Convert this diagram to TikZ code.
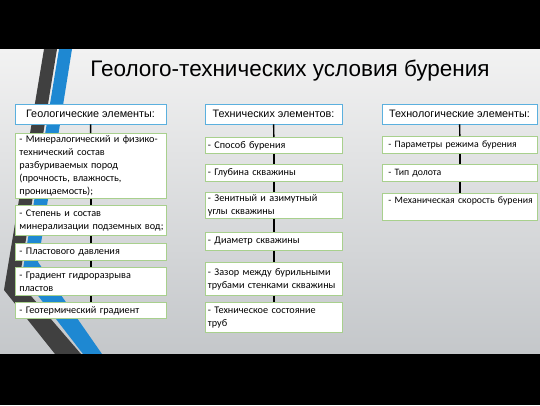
\documentclass[tikz,border=0pt]{standalone}
\usepackage{fontspec}
\setmainfont{Carlito}
\newfontfamily\arialf{Liberation Sans}
\definecolor{hdrblue}{HTML}{5BB0DE}
\definecolor{itgreen}{HTML}{A8D08D}
\definecolor{stripeblue}{HTML}{1E88D2}
\definecolor{stripedark}{HTML}{404040}
\definecolor{bgtop}{HTML}{F2F2F2}
\definecolor{bgbot}{HTML}{C4C7CA}
\begin{document}
\begin{tikzpicture}[x=1pt,y=-1pt,
  hdr/.style={draw=hdrblue, line width=0.9pt, fill=white, minimum height=20pt, inner sep=0pt,
    font=\arialf\fontsize{10.8}{12}\selectfont},
  item/.style={draw=itgreen, line width=0.9pt, fill=white, anchor=north west,
    inner ysep=2pt, align=left, font=\fontsize{10.2}{12.8}\selectfont},
  cola/.style={item, inner xsep=4pt, text width=143pt},
  colb/.style={item, inner xsep=2.5pt, text width=132pt},
  colc/.style={item, inner xsep=6pt, text width=143pt, font=\fontsize{9.8}{12.8}\selectfont},
  link/.style={line width=1.4pt, black}]
\useasboundingbox (0,0) rectangle (540,405);
% background
\shade[top color=bgtop, bottom color=bgbot] (0,49) rectangle (540,354);
% decorative stripes
\fill[stripedark] (44,49) -- (57,49) -- (19,282) -- (81,354) -- (55,354) -- (4,290) -- cycle;
\fill[stripeblue] (59,49) -- (72,49) -- (38,262) -- (102,354) -- (83,354) -- (22,275) -- cycle;
% black bands
\fill[black] (0,0) rectangle (540,49);
\fill[black] (0,354) rectangle (540,405);
% title
\node[font=\arialf\fontsize{22.5}{26}\selectfont, anchor=base] (title) at (290,76)
  {Геолого-технических условия бурения};
% headers
\node[hdr, minimum width=151pt] (h1) at (90.5,114) {Геологические элементы:};
\node[hdr, minimum width=137pt] (h2) at (273.5,114) {Технических элементов:};
\node[hdr, minimum width=155pt] (h3) at (459.5,114) {Технологические элементы:};
% column 1
\node[cola, minimum height=65pt] (g1) at (15,133) {\mbox{- Минералогический и физико-}\\технический состав\\разбуриваемых пород\\(прочность, влажность,\\проницаемость);};
\node[cola, minimum height=30pt] (g2) at (15,205) {- Степень и состав\\\mbox{минерализации подземных вод;}};
\node[cola, minimum height=17pt] (g3) at (15,243) {- Пластового давления};
\node[cola, minimum height=28pt] (g4) at (15,267) {- Градиент гидроразрыва\\пластов};
\node[cola, minimum height=16pt] (g5) at (15,302) {- Геотермический градиент};
% column 2
\node[colb, minimum height=16pt] (t1) at (205,137) {- Способ бурения};
\node[colb, minimum height=17pt] (t2) at (205,164) {- Глубина скважины};
\node[colb, minimum height=26pt] (t3) at (205,192) {- Зенитный и азимутный\\углы скважины};
\node[colb, minimum height=18pt] (t4) at (205,232) {- Диаметр скважины};
\node[colb, minimum height=33pt] (t5) at (205,262) {\mbox{- Зазор между бурильными}\\\mbox{трубами стенками скважины}};
\node[colb, minimum height=30pt] (t6) at (205,302) {- Техническое состояние\\труб};
% column 3
\node[colc, minimum height=17pt] (p1) at (382,136) {\mbox{- Параметры режима бурения}};
\node[colc, minimum height=17pt] (p2) at (382,164) {- Тип долота};
\node[colc, minimum height=27pt] (p3) at (382,193) {\mbox{- Механическая скорость бурения}\\\mbox{}};
% connectors
\draw[link] (h1) -- (g1);
\draw[link] (g1) -- (g2);
\draw[link] (g2) -- (g3);
\draw[link] (g3) -- (g4);
\draw[link] (g4) -- (g5);
\draw[link] (h2) -- (t1);
\draw[link] (t1) -- (t2);
\draw[link] (t2) -- (t3);
\draw[link] (t3) -- (t4);
\draw[link] (t4) -- (t5);
\draw[link] (t5) -- (t6);
\draw[link] (h3) -- (p1);
\draw[link] (p1) -- (p2);
\draw[link] (p2) -- (p3);
\end{tikzpicture}
\end{document}
